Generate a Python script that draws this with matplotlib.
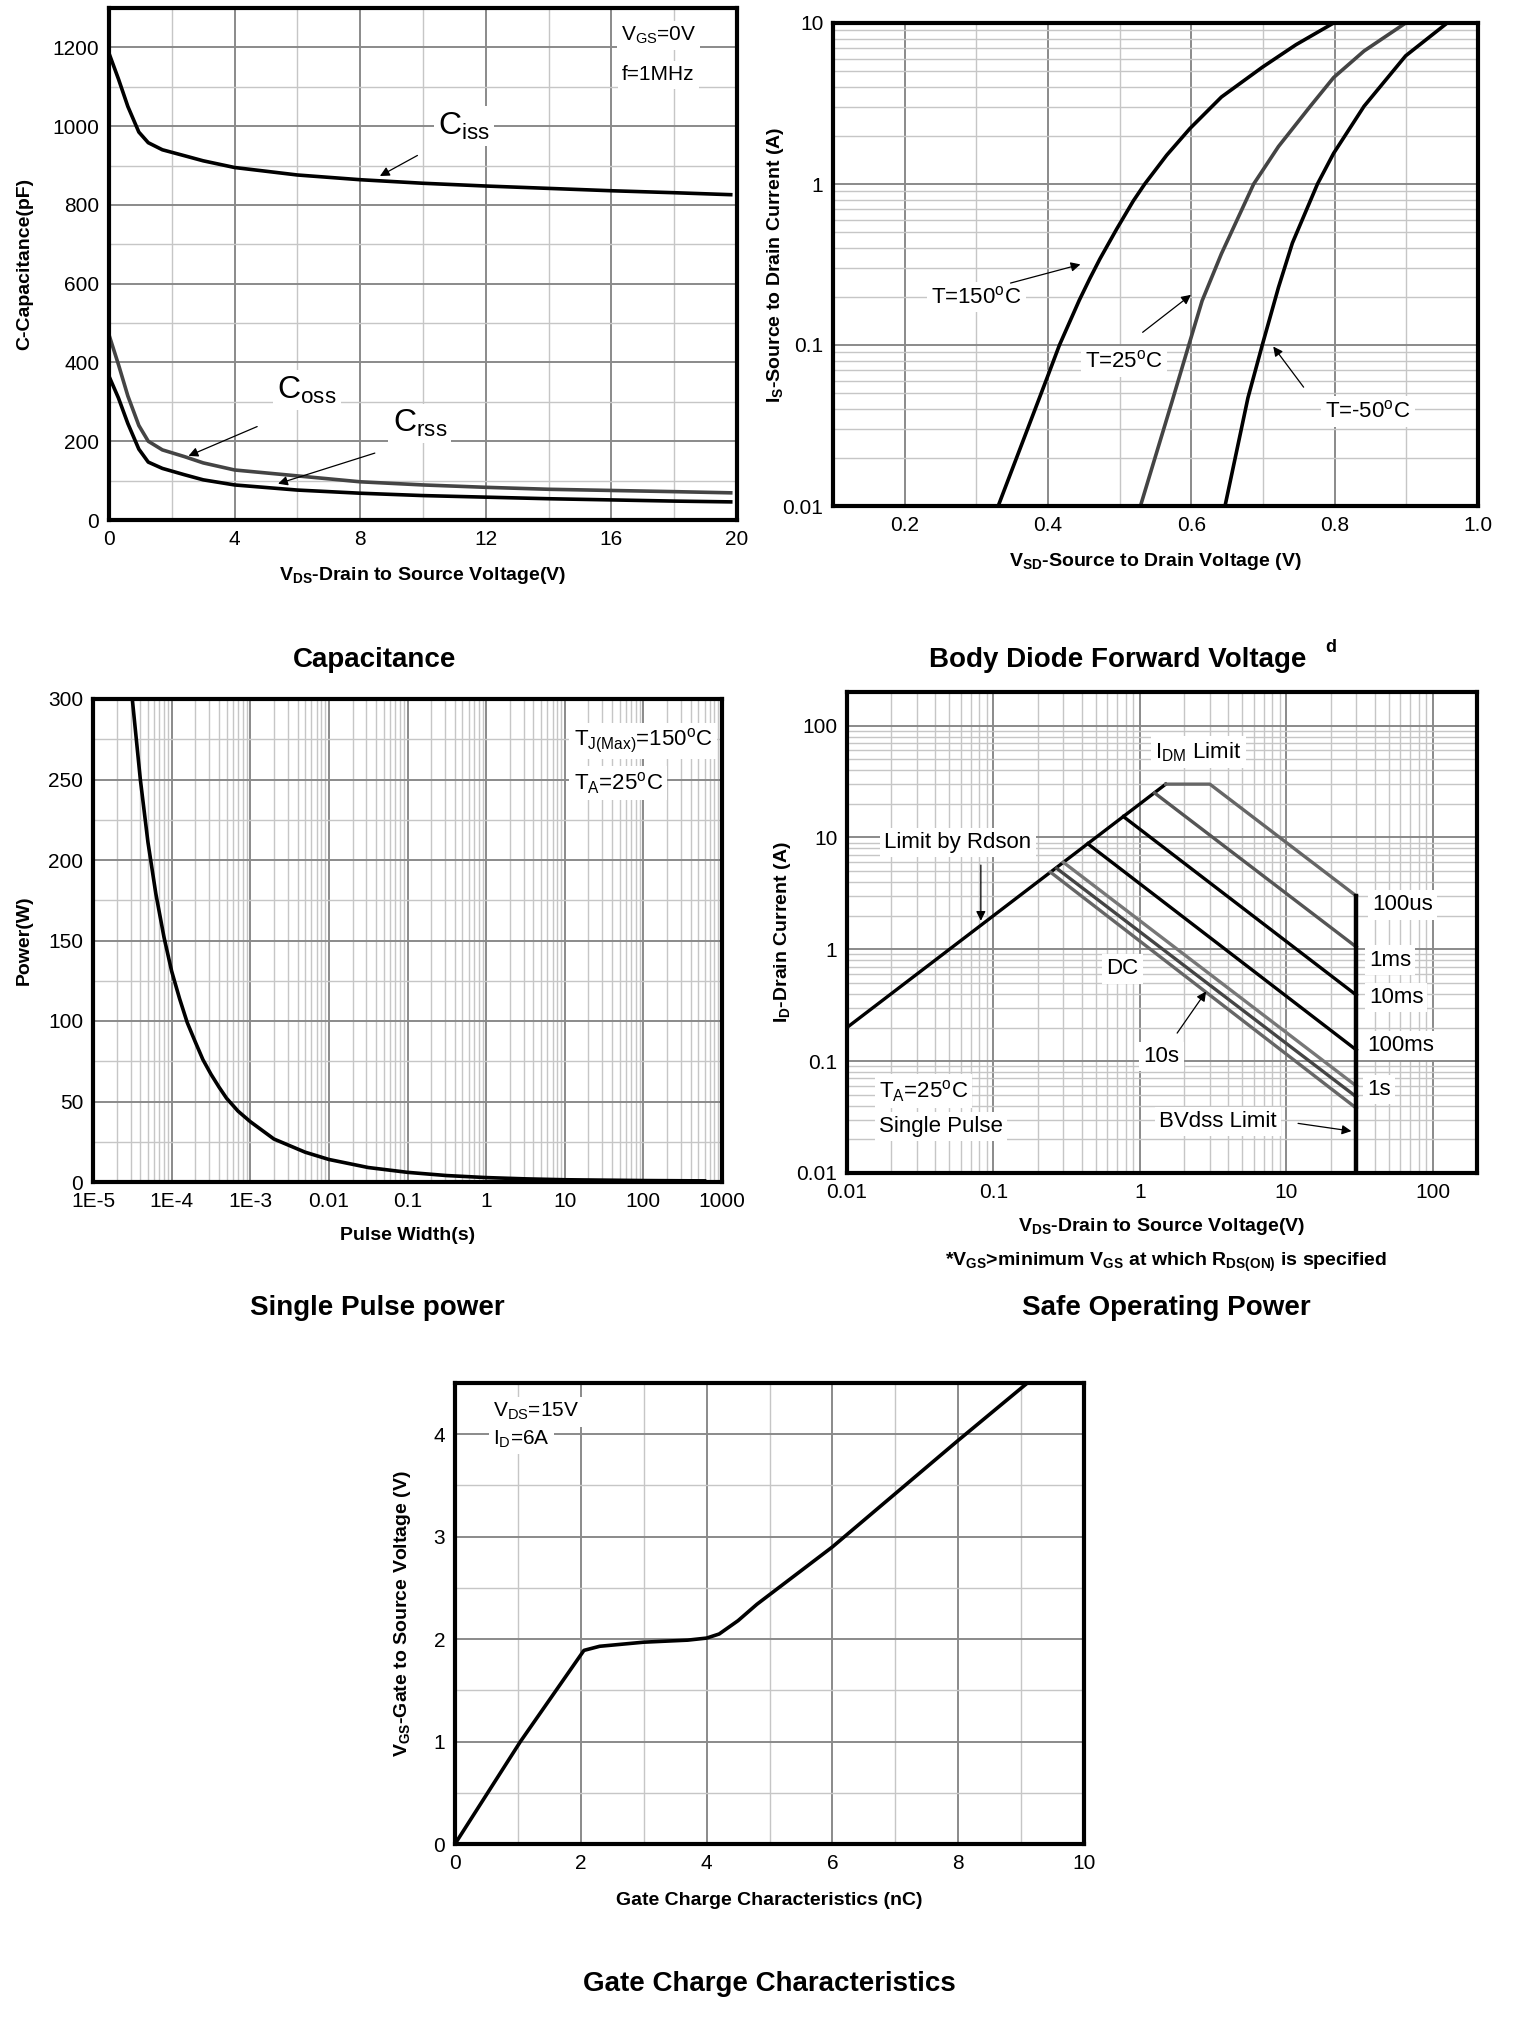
import numpy as np
import matplotlib.pyplot as plt
from matplotlib.ticker import MultipleLocator, LogLocator, NullFormatter

plt.rcParams['font.family'] = ['Liberation Sans', 'DejaVu Sans']
plt.rcParams['mathtext.fontset'] = 'custom'
plt.rcParams['mathtext.rm'] = 'Liberation Sans'
plt.rcParams['mathtext.it'] = 'Liberation Sans:italic'
plt.rcParams['mathtext.bf'] = 'Liberation Sans:bold'

# ---- capacitance vs VDS ----
cap_v = [0, 0.3, 0.6, 0.95, 1.25, 1.7, 2.4, 3, 4, 6, 8, 10, 12, 14, 16, 18, 19.8]
ciss = [1185, 1120, 1050, 985, 958, 940, 925, 912, 895, 876, 864, 855, 848, 842, 836, 831, 826]
coss = [470, 395, 315, 240, 200, 178, 161, 145, 127, 112, 97, 89, 83, 78, 75, 72, 69]
crss = [365, 310, 245, 180, 147, 131, 115, 102, 89, 76, 68, 62, 58, 54, 51, 48, 46]

# ---- body diode forward voltage ----
t150_v = [0.3305, 0.399, 0.416, 0.4437, 0.4586, 0.4725, 0.4958, 0.519, 0.535, 0.5656,
          0.598, 0.642, 0.699, 0.746, 0.7985]
t150_i = [0.01, 0.063, 0.1, 0.19, 0.26, 0.343, 0.525, 0.785, 1.0, 1.51,
          2.21, 3.47, 5.31, 7.33, 10]
t25_v = [0.529, 0.5727, 0.5965, 0.615, 0.642, 0.687, 0.7216, 0.766, 0.7985, 0.841, 0.899]
t25_i = [0.01, 0.044, 0.1, 0.188, 0.369, 1.0, 1.71, 3.04, 4.58, 6.7, 10]
tm50_v = [0.647, 0.679, 0.699, 0.7216, 0.741, 0.776, 0.7985, 0.841, 0.899, 0.957]
tm50_i = [0.01, 0.047, 0.1, 0.228, 0.43, 1.0, 1.55, 3.04, 6.25, 10]

# ---- single pulse power ----
sp_t = [3.16e-5, 4e-5, 5e-5, 6.3e-5, 8e-5, 1e-4, 1.26e-4, 1.58e-4, 2e-4, 2.5e-4,
        3.16e-4, 4e-4, 5e-4, 7e-4, 1e-3, 2e-3, 5e-3, 0.01, 0.0316, 0.1, 0.316,
        1, 3.16, 10, 100, 600]
sp_p = [300, 250, 211, 179, 152, 131, 114, 99, 87, 76,
        67, 59, 52, 44, 37.5, 26.7, 18.5, 14, 9.0, 6.0, 4.0,
        2.75, 1.95, 1.4, 0.9, 0.7]
sp_ticks = [1e-5, 1e-4, 1e-3, 0.01, 0.1, 1, 10, 100, 1000]
sp_ticklabels = ['1E-5', '1E-4', '1E-3', '0.01', '0.1', '1', '10', '100', '1000']

# ---- safe operating area ----
rdson_v = [0.01, 1.5]
rdson_i = [0.2, 30]
idm_v = [1.5, 3.0, 30]          # IDM limit + 100us
idm_i = [30, 30, 3.0]
soa_1ms = ([1.26, 30], [25, 1.05])
soa_10ms = ([0.77, 30], [15.4, 0.39])
soa_100ms = ([0.44, 30], [8.8, 0.126])
soa_1s = ([0.30, 30], [6.0, 0.06])
soa_10s = ([0.27, 30], [5.3, 0.048])
soa_dc = ([0.245, 30], [4.9, 0.038])
bvdss_v = [30, 30]
bvdss_i = [0.01, 3.0]
log_ticks = [0.01, 0.1, 1, 10, 100]
log_ticklabels = ['0.01', '0.1', '1', '10', '100']

# ---- gate charge ----
qg = [0, 1.04, 2.05, 2.3, 3.0, 3.7, 4.0, 4.2, 4.5, 4.8, 6.0, 8.0, 9.1]
vgs = [0, 1.0, 1.89, 1.93, 1.97, 1.99, 2.01, 2.05, 2.18, 2.34, 2.9, 3.94, 4.5]

W, H = 1538, 2020
fig = plt.figure(figsize=(W / 100, H / 100), dpi=100)


def box(x0, y0, x1, y1):
    # pixel box (left, top, right, bottom) -> figure fraction
    return [x0 / W, 1 - y1 / H, (x1 - x0) / W, (y1 - y0) / H]


def style(ax):
    for s in ax.spines.values():
        s.set_linewidth(3)
    ax.grid(True, which='major', color='#8a8a8a', lw=1.4)
    ax.grid(True, which='minor', color='#c6c6c6', lw=1.0)
    ax.set_axisbelow(True)
    ax.tick_params(which='both', length=0, labelsize=15, pad=7)


wbox = dict(facecolor='white', edgecolor='none', pad=3)
arrow = dict(arrowstyle='-|>', color='black', lw=0.9, mutation_scale=14)
lab = dict(fontsize=14, fontweight='bold')

# Capacitance
ax1 = fig.add_axes(box(109, 8, 737, 520))
ax1.plot(cap_v, ciss, color='black', lw=2.6)
ax1.plot(cap_v, coss, color='#444444', lw=2.6)
ax1.plot(cap_v, crss, color='black', lw=2.6)
ax1.set_xlim(0, 20)
ax1.set_ylim(0, 1300)
ax1.xaxis.set_major_locator(MultipleLocator(4))
ax1.xaxis.set_minor_locator(MultipleLocator(2))
ax1.set_yticks([0, 200, 400, 600, 800, 1000, 1200])
ax1.yaxis.set_minor_locator(MultipleLocator(100))
style(ax1)
ax1.set_xlabel(r'V$_{\mathbf{DS}}$-Drain to Source Voltage(V)', labelpad=12, **lab)
ax1.set_ylabel('C-Capacitance(pF)', **lab)
ax1.yaxis.set_label_coords(-0.121, 0.5)
ax1.text(17.5, 1230, r'V$_{\mathrm{GS}}$=0V', fontsize=15, ha='center', va='center', bbox=wbox)
ax1.text(17.5, 1130, 'f=1MHz', fontsize=15, ha='center', va='center', bbox=wbox)
ax1.text(11.3, 1000, r'C$_{\mathrm{iss}}$', fontsize=23, ha='center', va='center', bbox=wbox)
ax1.annotate('', xy=(8.55, 870), xytext=(9.9, 929), arrowprops=arrow)
ax1.text(6.3, 330, r'C$_{\mathrm{oss}}$', fontsize=23, ha='center', va='center', bbox=wbox)
ax1.annotate('', xy=(2.45, 160), xytext=(4.8, 240), arrowprops=arrow)
ax1.text(9.9, 245, r'C$_{\mathrm{rss}}$', fontsize=23, ha='center', va='center', bbox=wbox)
ax1.annotate('', xy=(5.3, 90), xytext=(8.55, 172), arrowprops=arrow)

# Body diode
ax2 = fig.add_axes(box(833, 23, 1478, 506))
ax2.plot(t150_v, t150_i, color='black', lw=2.6)
ax2.plot(t25_v, t25_i, color='#444444', lw=2.6)
ax2.plot(tm50_v, tm50_i, color='black', lw=2.6)
ax2.set_yscale('log')
ax2.set_xlim(0.1, 1.0)
ax2.set_ylim(0.01, 10)
ax2.set_xticks([0.2, 0.4, 0.6, 0.8, 1.0])
ax2.set_xticklabels(['0.2', '0.4', '0.6', '0.8', '1.0'])
ax2.xaxis.set_minor_locator(MultipleLocator(0.1))
ax2.set_yticks([0.01, 0.1, 1, 10])
ax2.set_yticklabels(['0.01', '0.1', '1', '10'])
ax2.yaxis.set_minor_locator(LogLocator(base=10, subs=np.arange(2, 10), numticks=20))
ax2.yaxis.set_minor_formatter(NullFormatter())
style(ax2)
ax2.set_xlabel(r'V$_{\mathbf{SD}}$-Source to Drain Voltage (V)', labelpad=12, **lab)
ax2.set_ylabel(r'I$_{\mathbf{S}}$-Source to Drain Current (A)', **lab)
ax2.yaxis.set_label_coords(-0.073, 0.5)
ax2.text(0.3, 0.198, r'T=150$^{\mathrm{o}}$C', fontsize=16, ha='center', va='center', bbox=wbox)
ax2.annotate('', xy=(0.449, 0.32), xytext=(0.344, 0.24), arrowprops=arrow)
ax2.text(0.506, 0.079, r'T=25$^{\mathrm{o}}$C', fontsize=16, ha='center', va='center', bbox=wbox)
ax2.annotate('', xy=(0.6025, 0.21), xytext=(0.529, 0.117), arrowprops=arrow)
ax2.text(0.846, 0.0387, r'T=-50$^{\mathrm{o}}$C', fontsize=16, ha='center', va='center', bbox=wbox)
ax2.annotate('', xy=(0.712, 0.101), xytext=(0.759, 0.053), arrowprops=arrow)

# Single pulse power
ax3 = fig.add_axes(box(93, 699, 722, 1182))
ax3.plot(sp_t, sp_p, color='black', lw=2.6)
ax3.set_xscale('log')
ax3.set_xlim(1e-5, 1000)
ax3.set_ylim(0, 300)
ax3.set_xticks(sp_ticks)
ax3.set_xticklabels(sp_ticklabels)
ax3.xaxis.set_minor_locator(LogLocator(base=10, subs=np.arange(2, 10), numticks=30))
ax3.xaxis.set_minor_formatter(NullFormatter())
ax3.yaxis.set_major_locator(MultipleLocator(50))
ax3.yaxis.set_minor_locator(MultipleLocator(25))
style(ax3)
ax3.set_xlabel('Pulse Width(s)', labelpad=12, **lab)
ax3.set_ylabel('Power(W)', **lab)
ax3.yaxis.set_label_coords(-0.095, 0.5)
ax3.text(13, 274, r'T$_{\mathrm{J(Max)}}$=150$^{\mathrm{o}}$C', fontsize=16, ha='left', va='center', bbox=wbox)
ax3.text(13, 248, r'T$_{\mathrm{A}}$=25$^{\mathrm{o}}$C', fontsize=16, ha='left', va='center', bbox=wbox)

# Safe operating area
ax4 = fig.add_axes(box(847, 692, 1477, 1173))
ax4.plot(rdson_v, rdson_i, color='black', lw=2.4)
ax4.plot(idm_v, idm_i, color='#666666', lw=2.4)
ax4.plot(*soa_1ms, color='#555555', lw=2.4)
ax4.plot(*soa_10ms, color='black', lw=2.4)
ax4.plot(*soa_100ms, color='black', lw=2.4)
ax4.plot(*soa_1s, color='#777777', lw=2.4)
ax4.plot(*soa_10s, color='#444444', lw=2.4)
ax4.plot(*soa_dc, color='#666666', lw=2.4)
ax4.plot(bvdss_v, bvdss_i, color='black', lw=3.2)
ax4.set_xscale('log')
ax4.set_yscale('log')
ax4.set_xlim(0.01, 200)
ax4.set_ylim(0.01, 200)
ax4.set_xticks(log_ticks)
ax4.set_xticklabels(log_ticklabels)
ax4.set_yticks(log_ticks)
ax4.set_yticklabels(log_ticklabels)
for a in (ax4.xaxis, ax4.yaxis):
    a.set_minor_locator(LogLocator(base=10, subs=np.arange(2, 10), numticks=30))
    a.set_minor_formatter(NullFormatter())
style(ax4)
ax4.set_xlabel(r'V$_{\mathbf{DS}}$-Drain to Source Voltage(V)', labelpad=10, **lab)
ax4.set_ylabel(r'I$_{\mathbf{D}}$-Drain Current (A)', **lab)
ax4.yaxis.set_label_coords(-0.086, 0.5)
ax4.text(2.5, 58, r'I$_{\mathrm{DM}}$ Limit', fontsize=16, ha='center', va='center', bbox=wbox)
ax4.text(0.057, 9.0, 'Limit by Rdson', fontsize=16, ha='center', va='center', bbox=wbox)
ax4.annotate('', xy=(0.082, 1.7), xytext=(0.082, 6.0), arrowprops=arrow)
ax4.text(62, 2.5, '100us', fontsize=16, ha='center', va='center', bbox=wbox)
ax4.text(51, 0.8, '1ms', fontsize=16, ha='center', va='center', bbox=wbox)
ax4.text(56, 0.37, '10ms', fontsize=16, ha='center', va='center', bbox=wbox)
ax4.text(60, 0.138, '100ms', fontsize=16, ha='center', va='center', bbox=wbox)
ax4.text(43, 0.056, '1s', fontsize=16, ha='center', va='center', bbox=wbox)
ax4.text(0.76, 0.67, 'DC', fontsize=16, ha='center', va='center', bbox=wbox)
ax4.text(1.4, 0.11, '10s', fontsize=16, ha='center', va='center', bbox=wbox)
ax4.annotate('', xy=(2.9, 0.44), xytext=(1.75, 0.17), arrowprops=arrow)
ax4.text(3.4, 0.029, 'BVdss Limit', fontsize=16, ha='center', va='center', bbox=wbox)
ax4.annotate('', xy=(29, 0.0235), xytext=(11.5, 0.028), arrowprops=arrow)
ax4.text(0.0165, 0.054, r'T$_{\mathrm{A}}$=25$^{\mathrm{o}}$C', fontsize=16, ha='left', va='center', bbox=wbox)
ax4.text(0.0165, 0.026, 'Single Pulse', fontsize=16, ha='left', va='center', bbox=wbox)

# Gate charge
ax5 = fig.add_axes(box(455, 1383, 1084, 1844))
ax5.plot(qg, vgs, color='black', lw=2.6)
ax5.set_xlim(0, 10)
ax5.set_ylim(0, 4.5)
ax5.xaxis.set_major_locator(MultipleLocator(2))
ax5.xaxis.set_minor_locator(MultipleLocator(1))
ax5.set_yticks([0, 1, 2, 3, 4])
ax5.yaxis.set_minor_locator(MultipleLocator(0.5))
style(ax5)
ax5.set_xlabel('Gate Charge Characteristics (nC)', labelpad=14, **lab)
ax5.set_ylabel(r'V$_{\mathbf{GS}}$-Gate to Source Voltage (V)', **lab)
ax5.yaxis.set_label_coords(-0.067, 0.5)
ax5.text(0.6, 4.22, r'V$_{\mathrm{DS}}$=15V', fontsize=15, ha='left', va='center', bbox=wbox)
ax5.text(0.6, 3.95, r'I$_{\mathrm{D}}$=6A', fontsize=15, ha='left', va='center', bbox=wbox)

# panel titles
tkw = dict(fontsize=20, fontweight='bold', ha='center', va='center')
fig.text(375 / W, 1 - 660 / H, 'Capacitance', **tkw)
fig.text(1118 / W, 1 - 660 / H, 'Body Diode Forward Voltage', **tkw)
fig.text(1331 / W, 1 - 647 / H, 'd', fontsize=13, fontweight='bold', ha='center', va='center')
fig.text(377 / W, 1 - 1308 / H, 'Single Pulse power', **tkw)
fig.text(1166 / W, 1 - 1308 / H, 'Safe Operating Power', **tkw)
fig.text(1166 / W, 1 - 1262 / H,
         r'*V$_{\mathbf{GS}}$>minimum V$_{\mathbf{GS}}$ at which R$_{\mathbf{DS(ON)}}$ is specified',
         fontsize=14, fontweight='bold', ha='center', va='center')
fig.text(769 / W, 1 - 1984 / H, 'Gate Charge Characteristics', **tkw)

fig.savefig('out.png', dpi=100, facecolor='white')
